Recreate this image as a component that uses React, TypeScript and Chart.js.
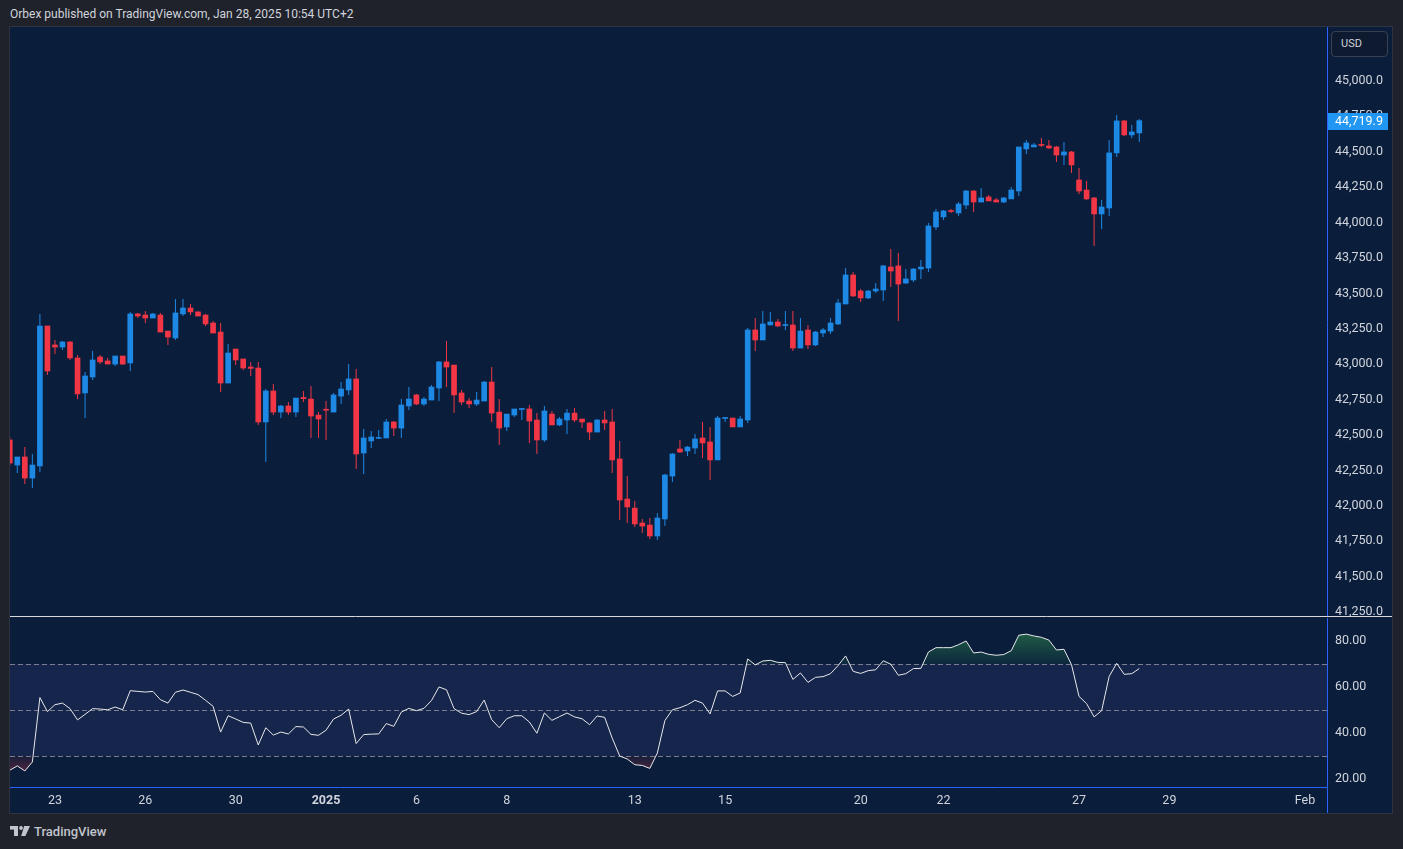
import React, { useEffect, useRef } from 'react';
import { Chart, registerables } from 'chart.js';

Chart.register(...registerables);

// ---------------- DATA ----------------
const opens = [
  42465, 42288, 42345, 42196, 42281, 43270, 43136, 43121, 43157, 43044,
  42797, 42910, 43051, 43023, 43001, 43058, 43009, 43355, 43347, 43326,
  43347, 43234, 43185, 43355, 43397, 43369, 43347, 43291, 43227, 42867,
  43107, 43037, 42980, 42973, 42592, 42811, 42662, 42705, 42662, 42765,
  42754, 42641, 42682, 42662, 42775, 42818, 42896, 42373, 42458, 42476,
  42479, 42592, 42549, 42705, 42783, 42719, 42747, 42832, 43016, 42994,
  42797, 42740, 42719, 42740, 42874, 42662, 42557, 42641, 42680, 42684,
  42606, 42465, 42648, 42571, 42606, 42655, 42613, 42585, 42521, 42606,
  42592, 42331, 42048, 41984, 41879, 41864, 41787, 41907, 42210, 42401,
  42387, 42408, 42479, 42451, 42324, 42617, 42620, 42557, 42606, 43242,
  43171, 43277, 43298, 43273, 43277, 43114, 43242, 43136, 43220, 43234,
  43284, 43425, 43630, 43517, 43468, 43517, 43524, 43686, 43694, 43573,
  43595, 43672, 43679, 43969, 44040, 44085, 44068, 44124, 44223, 44145,
  44181, 44160, 44145, 44167, 44223, 44520, 44534, 44552, 44541, 44534,
  44477, 44499, 44301, 44230, 44174, 44061, 44103, 44492, 44718, 44619,
  44633,
];

const highs = [
  42486, 42345, 42415, 42366, 43355, 43270, 43171, 43164, 43164, 43065,
  42945, 43093, 43065, 43044, 43058, 43058, 43369, 43362, 43376, 43362,
  43362, 43234, 43460, 43460, 43425, 43376, 43355, 43305, 43291, 43143,
  43107, 43037, 43016, 43016, 42825, 42860, 42712, 42733, 42761, 42811,
  42846, 42662, 42740, 42797, 42874, 43001, 42966, 42542, 42528, 42535,
  42613, 42599, 42754, 42839, 42790, 42768, 42853, 43023, 43164, 42994,
  42818, 42761, 42804, 42881, 42980, 42754, 42648, 42684, 42691, 42712,
  42655, 42705, 42670, 42627, 42684, 42691, 42613, 42592, 42613, 42670,
  42684, 42458, 42210, 42034, 41907, 41914, 41949, 42225, 42373, 42465,
  42422, 42507, 42592, 42557, 42634, 42623, 42620, 42634, 43256, 43326,
  43376, 43369, 43319, 43376, 43376, 43326, 43277, 43234, 43256, 43326,
  43460, 43679, 43651, 43531, 43524, 43573, 43701, 43814, 43785, 43672,
  43679, 43736, 43997, 44096, 44089, 44096, 44145, 44230, 44230, 44244,
  44195, 44174, 44181, 44251, 44534, 44583, 44562, 44597, 44583, 44541,
  44569, 44506, 44386, 44294, 44181, 44160, 44583, 44760, 44725, 44689,
  44732,
];

const lows = [
  42281, 42232, 42154, 42126, 42239, 42924, 43072, 43100, 43030, 42754,
  42620, 42888, 43001, 43001, 42987, 42994, 42952, 43326, 43291, 43326,
  43227, 43136, 43171, 43340, 43347, 43340, 43270, 43220, 42804, 42867,
  42994, 42959, 42917, 42571, 42309, 42641, 42620, 42641, 42627, 42733,
  42479, 42479, 42465, 42662, 42719, 42783, 42260, 42225, 42408, 42472,
  42479, 42493, 42479, 42677, 42712, 42705, 42747, 42740, 42839, 42655,
  42712, 42691, 42705, 42740, 42592, 42429, 42528, 42627, 42606, 42444,
  42366, 42451, 42571, 42564, 42507, 42592, 42549, 42465, 42521, 42535,
  42232, 41900, 41879, 41850, 41808, 41766, 41759, 41857, 42168, 42373,
  42352, 42366, 42338, 42182, 42324, 42592, 42557, 42557, 42585, 43093,
  43171, 43277, 43263, 43242, 43093, 43114, 43107, 43129, 43192, 43213,
  43277, 43425, 43475, 43439, 43460, 43503, 43446, 43545, 43305, 43566,
  43581, 43602, 43651, 43948, 44018, 44068, 44047, 44096, 44075, 44145,
  44153, 44145, 44138, 44167, 44188, 44484, 44534, 44534, 44520, 44428,
  44407, 44350, 44202, 44160, 43835, 43955, 44047, 44463, 44612, 44597,
  44569,
];

const closes = [
  42302, 42345, 42196, 42288, 43270, 42952, 43121, 43157, 43044, 42790,
  42917, 43030, 43016, 43001, 43058, 43001, 43355, 43340, 43326, 43355,
  43227, 43192, 43362, 43397, 43369, 43340, 43284, 43220, 42867, 43079,
  43030, 42973, 42970, 42592, 42811, 42662, 42705, 42662, 42761, 42757,
  42634, 42613, 42675, 42783, 42825, 42896, 42366, 42479, 42486, 42483,
  42592, 42549, 42712, 42754, 42719, 42754, 42839, 43016, 42980, 42783,
  42733, 42719, 42747, 42874, 42655, 42549, 42648, 42684, 42687, 42599,
  42465, 42670, 42571, 42613, 42655, 42606, 42592, 42521, 42606, 42585,
  42324, 42041, 41992, 41872, 41857, 41787, 41914, 42218, 42366, 42380,
  42415, 42472, 42444, 42324, 42620, 42623, 42557, 42613, 43242, 43171,
  43284, 43298, 43270, 43280, 43114, 43234, 43136, 43227, 43242, 43291,
  43432, 43630, 43482, 43468, 43517, 43531, 43694, 43658, 43566, 43602,
  43672, 43686, 43976, 44075, 44082, 44078, 44131, 44223, 44145, 44174,
  44153, 44145, 44174, 44230, 44534, 44562, 44548, 44545, 44527, 44477,
  44499, 44407, 44223, 44167, 44061, 44110, 44492, 44718, 44619, 44640,
  44719.9,
];

const rsiValues = [
  23.8, 25.7, 23.5, 27.4, 55.4, 49.3, 52.3, 53.0, 50.6, 45.7,
  48.1, 50.6, 50.4, 50.1, 51.3, 50.1, 58.4, 58.1, 57.8, 58.1,
  54.5, 53.0, 57.7, 58.7, 57.7, 56.7, 54.2, 51.6, 40.4, 47.5,
  46.1, 44.6, 44.3, 34.8, 42.3, 39.1, 40.4, 39.6, 42.8, 42.6,
  39.4, 39.0, 41.2, 46.1, 47.7, 50.4, 35.4, 39.3, 39.5, 39.6,
  44.1, 42.9, 49.1, 50.7, 49.7, 50.7, 54.1, 60.0, 58.8, 50.6,
  48.6, 48.0, 49.3, 54.3, 45.8, 42.3, 46.2, 47.5, 47.5, 44.8,
  39.9, 48.7, 45.5, 47.1, 48.7, 47.0, 46.2, 43.6, 47.4, 46.8,
  37.8, 30.0, 28.7, 26.2, 25.9, 24.6, 31.3, 45.4, 50.1, 51.0,
  52.3, 54.2, 53.0, 48.3, 58.3, 58.3, 55.9, 57.4, 72.2, 69.6,
  71.3, 71.6, 70.7, 70.6, 63.3, 66.1, 62.0, 64.2, 64.5, 65.8,
  69.3, 73.5, 66.8, 65.9, 67.1, 67.5, 71.4, 69.9, 65.1, 65.8,
  68.0, 68.1, 75.2, 77.1, 77.1, 77.1, 78.4, 80.0, 74.8, 75.2,
  74.2, 73.8, 74.1, 75.8, 82.5, 83.0, 82.2, 81.6, 80.4, 76.1,
  76.4, 69.7, 55.9, 52.8, 47.0, 49.7, 64.6, 70.3, 65.5, 65.8,
  68.0,
];

const priceTicks = [
  41250, 41500, 41750, 42000, 42250, 42500, 42750, 43000,
  43250, 43500, 43750, 44000, 44250, 44500, 44750, 45000,
];
const rsiTicks = [20, 40, 60, 80];
const rsiLevels = [70, 50, 30];
const dateTickIndex = [6, 18, 30, 42, 54, 66, 83, 95, 113, 124, 142, 154, 172];
const dateTickLabels = ['23', '26', '30', '2025', '6', '8', '13', '15', '20', '22', '27', '29', 'Feb'];
const lastPrice = 44719.9;
const currencyLabel = 'USD';
const headerText = 'Orbex published on TradingView.com, Jan 28, 2025 10:54 UTC+2';
const brandText = 'TradingView';

// ---------------- STYLE ----------------
const PAGE_BG = '#1f222b';
const NAVY = '#0a1e3b';
const BAND = '#16254b';
const UP = '#1e88e5';
const DOWN = '#f23645';
const ACCENT = '#2962ff';
const TEXT = '#d1d4dc';
const FONT = 'Roboto, "Noto Sans", sans-serif';
const AXIS_FONT_SIZE = 12.5;

const X_MIN = 0.03;
const X_MAX = 174.93;
const AXIS_W = 65;

const fmtPrice = (v: number) =>
  Number(v).toLocaleString('en-US', { minimumFractionDigits: 1, maximumFractionDigits: 1 });

const zeroPad = (s: any) => {
  s.paddingTop = 0;
  s.paddingBottom = 0;
  s.paddingLeft = 0;
  s.paddingRight = 0;
};

const separatorPlugin = {
  id: 'separator',
  afterDraw(chart: any) {
    const { ctx, chartArea } = chart;
    ctx.save();
    ctx.strokeStyle = '#d6d8de';
    ctx.lineWidth = 1;
    ctx.beginPath();
    ctx.moveTo(0, chartArea.bottom - 0.5);
    ctx.lineTo(chart.width, chartArea.bottom - 0.5);
    ctx.stroke();
    ctx.restore();
  },
};

const priceTagPlugin = {
  id: 'priceTag',
  afterDraw(chart: any) {
    const { ctx, chartArea, scales } = chart;
    const y = Math.round(scales.y.getPixelForValue(lastPrice));
    ctx.save();
    ctx.fillStyle = '#2196f3';
    ctx.fillRect(chartArea.right + 1, y - 8, 60, 17);
    ctx.fillStyle = '#ffffff';
    ctx.font = `${AXIS_FONT_SIZE}px ${FONT}`;
    ctx.textBaseline = 'middle';
    ctx.textAlign = 'left';
    ctx.fillText(fmtPrice(lastPrice), chartArea.right + 8, y + 0.5);
    ctx.restore();
  },
};

const bandPlugin = {
  id: 'rsiBand',
  beforeDatasetsDraw(chart: any) {
    const { ctx, chartArea, scales } = chart;
    const y = scales.y;
    const top = y.getPixelForValue(rsiLevels[0]);
    const bot = y.getPixelForValue(rsiLevels[2]);
    ctx.save();
    ctx.fillStyle = BAND;
    ctx.fillRect(chartArea.left, top, chartArea.right - chartArea.left, bot - top);
    ctx.strokeStyle = '#7b7f8c';
    ctx.lineWidth = 1;
    ctx.setLineDash([5, 3]);
    rsiLevels.forEach((lv) => {
      const py = Math.round(y.getPixelForValue(lv)) + 0.5;
      ctx.beginPath();
      ctx.moveTo(chartArea.left, py);
      ctx.lineTo(chartArea.right, py);
      ctx.stroke();
    });
    ctx.restore();
  },
};

const axisExtPlugin = {
  id: 'axisExt',
  afterDraw(chart: any) {
    const { ctx, chartArea } = chart;
    ctx.save();
    ctx.strokeStyle = ACCENT;
    ctx.lineWidth = 1;
    ctx.beginPath();
    ctx.moveTo(chartArea.right + 0.5, chartArea.bottom);
    ctx.lineTo(chartArea.right + 0.5, chart.height);
    ctx.stroke();
    ctx.restore();
  },
};

export default function App() {
  const mainRef = useRef<HTMLCanvasElement | null>(null);
  const rsiRef = useRef<HTMLCanvasElement | null>(null);

  useEffect(() => {
    const idx = opens.map((_, i) => i);
    const colors = idx.map((i) => (closes[i] >= opens[i] ? UP : DOWN));

    const main = new Chart(mainRef.current as HTMLCanvasElement, {
      type: 'bar',
      data: {
        datasets: [
          {
            label: 'body',
            data: idx.map((i) => ({ x: i, y: [opens[i], closes[i]] })) as any,
            backgroundColor: colors,
            barThickness: 5,
            minBarLength: 1,
            grouped: false,
            borderWidth: 0,
            clip: 0,
          } as any,
          {
            label: 'wick',
            data: idx.map((i) => ({ x: i, y: [lows[i], highs[i]] })) as any,
            backgroundColor: colors,
            barThickness: 1,
            grouped: false,
            borderWidth: 0,
            inflateAmount: 0,
            clip: 0,
          } as any,
        ],
      },
      options: {
        responsive: false,
        maintainAspectRatio: false,
        animation: false,
        events: [],
        layout: { padding: 0, autoPadding: false } as any,
        plugins: { legend: { display: false }, tooltip: { enabled: false } },
        scales: {
          x: {
            type: 'linear',
            min: X_MIN,
            max: X_MAX,
            offset: false,
            display: false,
            grid: { display: false, drawTicks: false },
          },
          y: {
            position: 'right',
            min: 41215,
            max: 45381,
            grid: { display: false, drawTicks: false },
            border: { display: true, color: ACCENT, width: 1 },
            afterBuildTicks: (s: any) => {
              s.ticks = priceTicks.map((v) => ({ value: v }));
            },
            afterFit: (s: any) => {
              s.width = AXIS_W;
              zeroPad(s);
            },
            ticks: {
              color: TEXT,
              padding: 8,
              font: { family: FONT, size: AXIS_FONT_SIZE },
              callback: (v: any) => fmtPrice(v),
            },
          },
        },
      } as any,
      plugins: [separatorPlugin, priceTagPlugin],
    });

    const rsiPts = rsiValues.map((v, i) => ({ x: i, y: v }));
    const rsi = new Chart(rsiRef.current as HTMLCanvasElement, {
      type: 'line',
      data: {
        datasets: [
          {
            label: 'RSI',
            data: rsiPts,
            borderColor: '#e8e8ec',
            borderWidth: 1,
            pointRadius: 0,
            tension: 0,
            clip: 0,
            fill: { target: { value: 70 }, below: 'rgba(0,0,0,0)' },
            backgroundColor: (c: any) => {
              const chart = c.chart;
              const area = chart.chartArea;
              if (!area) return 'rgba(0,0,0,0)';
              const y = chart.scales.y;
              const g = chart.ctx.createLinearGradient(0, y.getPixelForValue(84), 0, y.getPixelForValue(70));
              g.addColorStop(0, 'rgba(52,150,80,0.55)');
              g.addColorStop(1, 'rgba(52,150,80,0.08)');
              return g;
            },
          } as any,
          {
            label: 'RSI oversold',
            data: rsiPts,
            borderColor: 'rgba(0,0,0,0)',
            borderWidth: 0,
            pointRadius: 0,
            tension: 0,
            clip: 0,
            fill: { target: { value: 30 }, above: 'rgba(0,0,0,0)' },
            backgroundColor: (c: any) => {
              const chart = c.chart;
              const area = chart.chartArea;
              if (!area) return 'rgba(0,0,0,0)';
              const y = chart.scales.y;
              const g = chart.ctx.createLinearGradient(0, y.getPixelForValue(22), 0, y.getPixelForValue(30));
              g.addColorStop(0, 'rgba(242,54,69,0.35)');
              g.addColorStop(1, 'rgba(242,54,69,0.05)');
              return g;
            },
          } as any,
        ],
      },
      options: {
        responsive: false,
        maintainAspectRatio: false,
        animation: false,
        events: [],
        layout: { padding: 0, autoPadding: false } as any,
        plugins: { legend: { display: false }, tooltip: { enabled: false } },
        scales: {
          x: {
            type: 'linear',
            min: X_MIN,
            max: X_MAX,
            offset: false,
            grid: { display: false, drawTicks: false },
            border: { display: true, color: ACCENT, width: 1 },
            afterBuildTicks: (s: any) => {
              s.ticks = dateTickIndex.map((v) => ({ value: v }));
            },
            afterFit: (s: any) => {
              s.height = 26;
              zeroPad(s);
            },
            ticks: {
              autoSkip: false,
              maxRotation: 0,
              minRotation: 0,
              padding: 6,
              color: TEXT,
              font: (c: any) => ({
                family: FONT,
                size: AXIS_FONT_SIZE,
                weight: c.tick && dateTickLabels[dateTickIndex.indexOf(c.tick.value)] === '2025' ? 'bold' : 'normal',
              }),
              callback: (v: any) => {
                const k = dateTickIndex.indexOf(Number(v));
                return k >= 0 ? dateTickLabels[k] : '';
              },
            },
          },
          y: {
            position: 'right',
            min: 16.52,
            max: 90,
            grid: { display: false, drawTicks: false },
            border: { display: true, color: ACCENT, width: 1 },
            afterBuildTicks: (s: any) => {
              s.ticks = rsiTicks.map((v) => ({ value: v }));
            },
            afterFit: (s: any) => {
              s.width = AXIS_W;
              zeroPad(s);
            },
            ticks: {
              color: TEXT,
              padding: 8,
              font: { family: FONT, size: AXIS_FONT_SIZE },
              callback: (v: any) => Number(v).toFixed(2),
            },
          },
        },
      } as any,
      plugins: [bandPlugin, axisExtPlugin],
    });

    return () => {
      main.destroy();
      rsi.destroy();
    };
  }, []);

  return (
    <div
      style={{
        position: 'fixed',
        inset: 0,
        background: PAGE_BG,
        overflow: 'hidden',
        fontFamily: FONT,
      }}
    >
      <div
        style={{
          position: 'absolute',
          left: 10,
          top: 6,
          fontSize: 12,
          lineHeight: '16px',
          color: TEXT,
          whiteSpace: 'nowrap',
        }}
      >
        {headerText}
      </div>
      <div
        style={{
          position: 'absolute',
          left: 9,
          top: 26,
          width: 1384,
          height: 788,
          boxSizing: 'border-box',
          border: '1px solid #2e3340',
          background: NAVY,
        }}
      />
      <canvas
        ref={mainRef}
        width={1382}
        height={590}
        style={{ position: 'absolute', left: 10, top: 27, width: 1382, height: 590 }}
      />
      <canvas
        ref={rsiRef}
        width={1382}
        height={195}
        style={{ position: 'absolute', left: 10, top: 618, width: 1382, height: 195 }}
      />
      <div
        style={{
          position: 'absolute',
          left: 1331,
          top: 31,
          width: 57,
          height: 26,
          boxSizing: 'border-box',
          border: '1px solid #3a4050',
          borderRadius: 4,
          background: '#0d1a30',
          color: TEXT,
          fontSize: 11,
          lineHeight: '24px',
          paddingLeft: 9,
        }}
      >
        {currencyLabel}
      </div>
      <div
        style={{
          position: 'absolute',
          left: 10,
          top: 823,
          height: 16,
          display: 'flex',
          alignItems: 'center',
          color: '#c2c5cc',
          fontSize: 13,
          fontWeight: 500,
        }}
      >
        <svg width="20" height="10" viewBox="0 0 20 10" style={{ marginRight: 4 }}>
          <rect x="0" y="0" width="8" height="3.6" fill="#c2c5cc" />
          <rect x="4" y="0" width="4" height="10" fill="#c2c5cc" />
          <circle cx="11" cy="2" r="1.9" fill="#c2c5cc" />
          <polygon points="14.2,0 20,0 15.4,10 11.2,10 " fill="#c2c5cc" />
        </svg>
        <span>{brandText}</span>
      </div>
    </div>
  );
}
